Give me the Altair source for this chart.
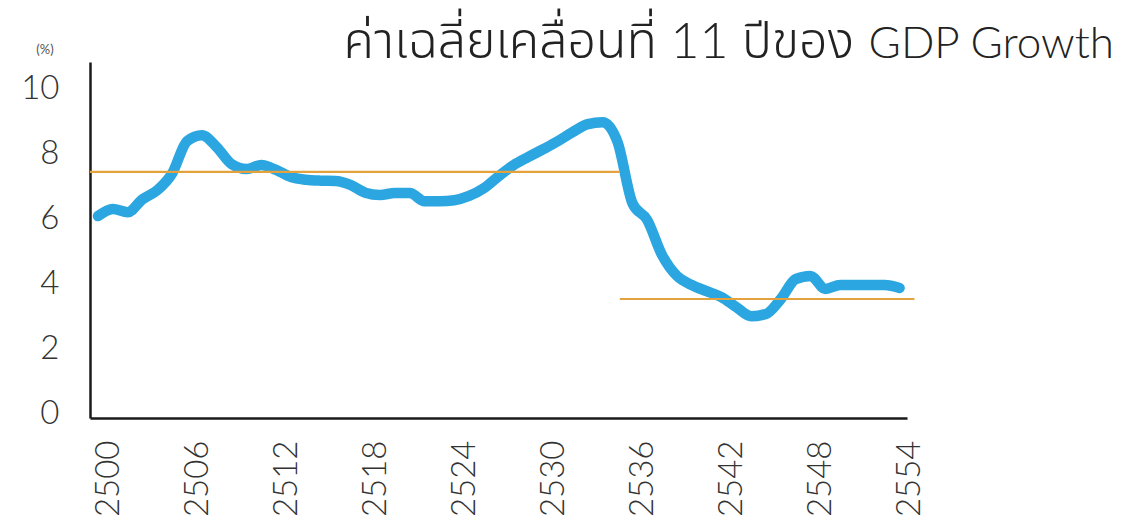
import altair as alt
import pandas as pd

# Years (Buddhist Era) and 11-year moving average of GDP growth (%)
years = list(range(2500, 2555))
values = [
    6.06, 6.28, 6.18, 6.58, 6.86, 7.38, 8.37, 8.55, 8.18, 7.66,
    7.51, 7.63, 7.48, 7.26, 7.18, 7.15, 7.14, 7.02, 6.78, 6.71,
    6.77, 6.77, 6.52, 6.52, 6.55, 6.68, 6.92, 7.29, 7.63, 7.88,
    8.12, 8.37, 8.65, 8.89, 8.95, 8.34, 6.46, 5.94, 4.86, 4.22,
    3.94, 3.75, 3.57, 3.26, 2.98, 3.05, 3.51, 4.12, 4.22, 3.82,
    3.94, 3.94, 3.94, 3.94, 3.85,
]

# Period averages (orange reference lines)
avg_start = [2499.46, 2535.15]
avg_end = [2535.15, 2555.0]
avg_value = [7.42, 3.51]

tick_years = list(range(2500, 2555, 6))
y_ticks = [0, 2, 4, 6, 8, 10]

title_thai = "ค่าเฉลี่ยเคลื่อนที่ 11 ปีของ"
title_latin = "GDP Growth"
unit_text = "(%)"

df = pd.DataFrame({"year": years, "value": values})
avg = pd.DataFrame({"start": avg_start, "end": avg_end, "value": avg_value})

FONT = "Lato"
TITLE_FONT = "Lato, Noto Sans Thai, Loma, Garuda, Noto Sans, sans-serif"
xs = alt.Scale(domain=[2499.46, 2554.5], nice=False, zero=False)
ys = alt.Scale(domain=[-0.15, 10.8], nice=False, zero=False)

line = alt.Chart(df).mark_line(
    color="#2BA6E0", strokeWidth=10.5, interpolate="monotone",
    strokeCap="round", strokeJoin="round"
).encode(
    x=alt.X("year:Q", scale=xs, axis=alt.Axis(
        values=tick_years, format="d", labelAngle=-90, labelAlign="right",
        labelBaseline="middle", labelPadding=22, labelOffset=10,
        labelFontSize=33, labelFont=FONT, labelFontWeight=300,
        labelColor="#333333", ticks=False, grid=False, domainColor="#1a1a1a",
        domainWidth=2.5, title=None, labelOverlap=False, labelFlush=False)),
    y=alt.Y("value:Q", scale=ys, axis=alt.Axis(
        values=y_ticks, labelPadding=31, labelFontSize=33, labelFont=FONT,
        labelFontWeight=300, labelColor="#333333", ticks=False, grid=False,
        domainColor="#1a1a1a", domainWidth=2.5, title=None,
        labelOverlap=False, labelFlush=False)),
)

rules = alt.Chart(avg).mark_rule(color="#E3A23E", strokeWidth=2.2).encode(
    x="start:Q", x2="end:Q", y="value:Q"
)

title_a = alt.Chart(pd.DataFrame({"t": [title_thai]})).mark_text(
    align="right", baseline="alphabetic", fontSize=50, font=TITLE_FONT,
    fontWeight=300, color="#222222"
).encode(x=alt.value(764), y=alt.value(-4), text="t:N")

title_b = alt.Chart(pd.DataFrame({"t": [title_latin]})).mark_text(
    align="right", baseline="alphabetic", fontSize=44, font=TITLE_FONT,
    fontWeight=300, color="#222222"
).encode(x=alt.value(1024), y=alt.value(-4), text="t:N")

unit = alt.Chart(pd.DataFrame({"t": [unit_text]})).mark_text(
    align="center", baseline="middle", fontSize=13, font=FONT,
    color="#555555"
).encode(x=alt.value(-45), y=alt.value(-12), text="t:N")

chart = alt.layer(line, rules, title_a, title_b, unit).properties(
    width=817, height=356,
    padding={"left": 82, "top": 54, "right": 210, "bottom": 98},
    autosize=alt.AutoSizeParams(type="none"),
).configure_view(stroke=None)

chart.save("out.html", embed_options={"renderer": "svg", "actions": False})
